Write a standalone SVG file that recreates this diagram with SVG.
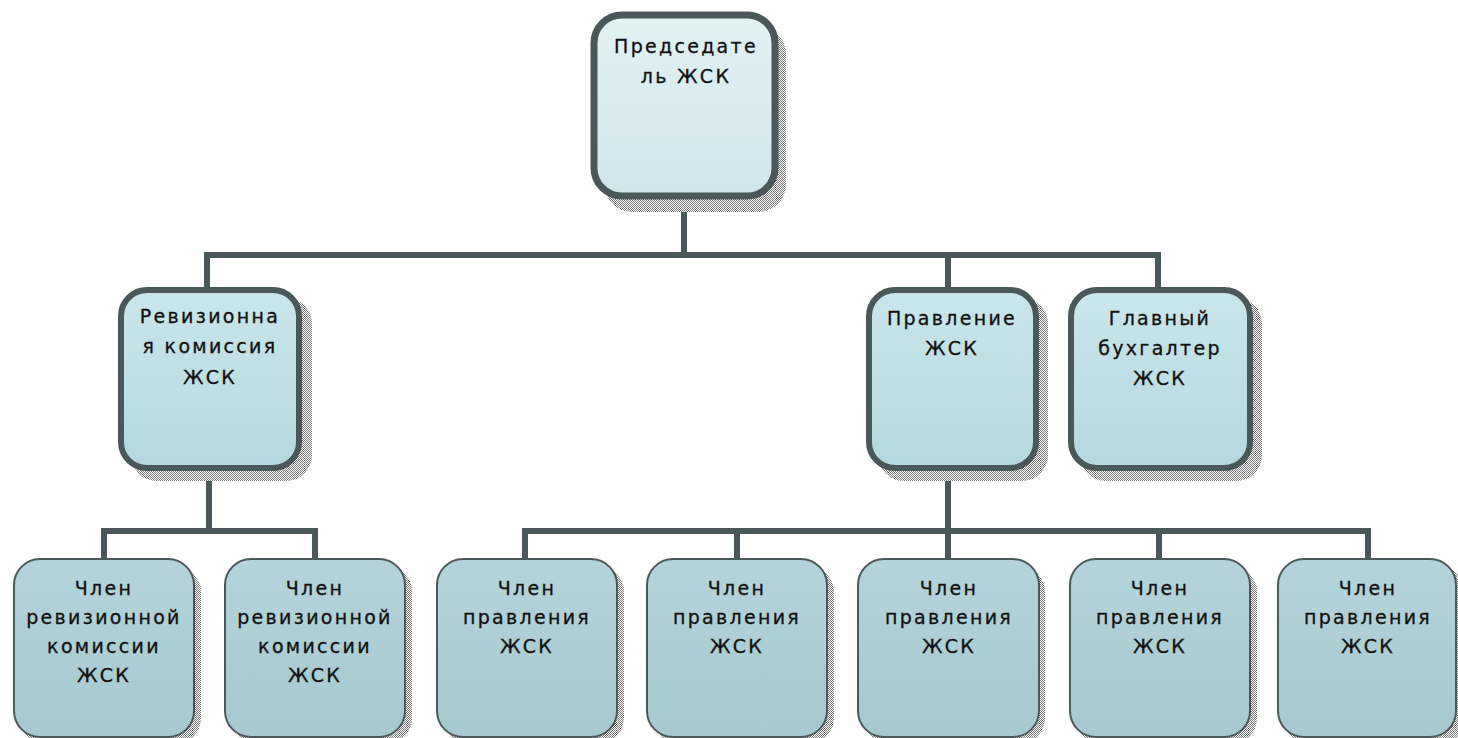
<svg xmlns="http://www.w3.org/2000/svg" width="1458" height="738" viewBox="0 0 1458 738">
<defs>
<pattern id="hatch" width="2" height="2" patternUnits="userSpaceOnUse">
<rect width="2" height="2" fill="#ffffff"/>
<rect width="1" height="1" fill="#7a7a7a"/>
<rect x="1" y="1" width="1" height="1" fill="#7a7a7a"/>
</pattern>
<linearGradient id="gTop" x1="0" y1="0" x2="0" y2="1">
<stop offset="0" stop-color="#e2f2f5"/>
<stop offset="1" stop-color="#cfe6ea"/>
</linearGradient>
<linearGradient id="gMid" x1="0" y1="0" x2="0" y2="1">
<stop offset="0" stop-color="#c9e6eb"/>
<stop offset="1" stop-color="#b3d8df"/>
</linearGradient>
<linearGradient id="gLow" x1="0" y1="0" x2="0" y2="1">
<stop offset="0" stop-color="#b3d4da"/>
<stop offset="1" stop-color="#a5c9cf"/>
</linearGradient>
</defs>
<style>
.conn{stroke:#4b5859;stroke-width:6;fill:none;stroke-linecap:square}
.shadow{fill:url(#hatch)}
.top{fill:url(#gTop);stroke:#4b5859;stroke-width:7}
.mid{fill:url(#gMid);stroke:#4b5859;stroke-width:6}
.low{fill:url(#gLow);stroke:#4b5859;stroke-width:2}
.t{font-family:"DejaVu Sans","Liberation Sans",sans-serif;font-size:19px;letter-spacing:2.3px;fill:#111;text-anchor:middle;stroke:#111;stroke-width:0.3}
</style>
<rect width="1458" height="738" fill="#ffffff"/>
<g id="connectors">
<path class="conn" d="M684 198V255M207 255H1158M207 255V288M948 255V288M1158 255V288"/>
<path class="conn" d="M209 470V531M104 531H315M104 531V559M315 531V559"/>
<path class="conn" d="M948 470V531M525 531H1368M525 531V559M737 531V559M948 531V559M1159 531V559M1368 531V559"/>
</g>
<g id="node-chair">
<rect class="shadow" x="604" y="26" width="182" height="186" rx="28"/>
<rect class="top" x="594" y="15" width="181" height="181" rx="28"/>
<text class="t" x="686" y="53">Председате</text>
<text class="t" x="686" y="83">ль ЖСК</text>
</g>
<g id="node-revision">
<rect class="shadow" x="131" y="298" width="181" height="183" rx="26"/>
<rect class="mid" x="121" y="290" width="178" height="178" rx="26"/>
<text class="t" x="210" y="323">Ревизионна</text>
<text class="t" x="210" y="353">я комиссия</text>
<text class="t" x="210" y="384">ЖСК</text>
</g>
<g id="node-board">
<rect class="shadow" x="878" y="298" width="170" height="183" rx="26"/>
<rect class="mid" x="869" y="290" width="167" height="178" rx="26"/>
<text class="t" x="952" y="325">Правление</text>
<text class="t" x="952" y="355">ЖСК</text>
</g>
<g id="node-accountant">
<rect class="shadow" x="1080" y="298" width="182" height="183" rx="26"/>
<rect class="mid" x="1071" y="290" width="179" height="178" rx="26"/>
<text class="t" x="1160" y="325">Главный</text>
<text class="t" x="1160" y="355">бухгалтер</text>
<text class="t" x="1160" y="385">ЖСК</text>
</g>
<g id="node-rev-member-1">
<rect class="shadow" x="20" y="566" width="181" height="178" rx="26"/>
<rect class="low" x="14" y="559" width="180" height="178" rx="26"/>
<text class="t" x="104" y="595">Член</text>
<text class="t" x="104" y="624">ревизионной</text>
<text class="t" x="104" y="653">комиссии</text>
<text class="t" x="104" y="682">ЖСК</text>
</g>
<g id="node-rev-member-2">
<rect class="shadow" x="231" y="566" width="181" height="178" rx="26"/>
<rect class="low" x="225" y="559" width="180" height="178" rx="26"/>
<text class="t" x="315" y="595">Член</text>
<text class="t" x="315" y="624">ревизионной</text>
<text class="t" x="315" y="653">комиссии</text>
<text class="t" x="315" y="682">ЖСК</text>
</g>
<g id="node-board-member-1">
<rect class="shadow" x="443" y="566" width="181" height="178" rx="26"/>
<rect class="low" x="437" y="559" width="180" height="178" rx="26"/>
<text class="t" x="527" y="595">Член</text>
<text class="t" x="527" y="624">правления</text>
<text class="t" x="527" y="653">ЖСК</text>
</g>
<g id="node-board-member-2">
<rect class="shadow" x="653" y="566" width="181" height="178" rx="26"/>
<rect class="low" x="647" y="559" width="180" height="178" rx="26"/>
<text class="t" x="737" y="595">Член</text>
<text class="t" x="737" y="624">правления</text>
<text class="t" x="737" y="653">ЖСК</text>
</g>
<g id="node-board-member-3">
<rect class="shadow" x="864" y="566" width="181" height="178" rx="26"/>
<rect class="low" x="858" y="559" width="181" height="178" rx="26"/>
<text class="t" x="949" y="595">Член</text>
<text class="t" x="949" y="624">правления</text>
<text class="t" x="949" y="653">ЖСК</text>
</g>
<g id="node-board-member-4">
<rect class="shadow" x="1076" y="566" width="181" height="178" rx="26"/>
<rect class="low" x="1070" y="559" width="180" height="178" rx="26"/>
<text class="t" x="1160" y="595">Член</text>
<text class="t" x="1160" y="624">правления</text>
<text class="t" x="1160" y="653">ЖСК</text>
</g>
<g id="node-board-member-5">
<rect class="shadow" x="1284" y="566" width="181" height="178" rx="26"/>
<rect class="low" x="1278" y="559" width="178" height="178" rx="26"/>
<text class="t" x="1368" y="595">Член</text>
<text class="t" x="1368" y="624">правления</text>
<text class="t" x="1368" y="653">ЖСК</text>
</g>
</svg>
